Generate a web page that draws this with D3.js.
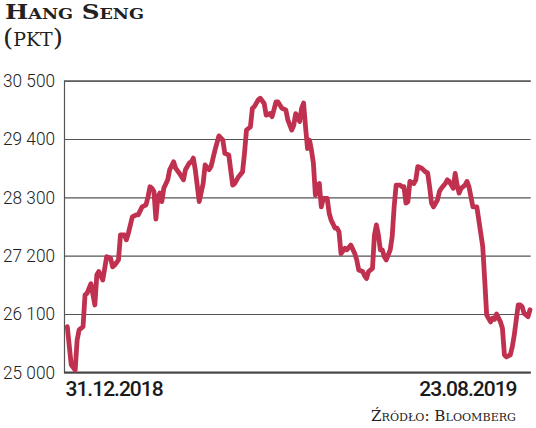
<!DOCTYPE html>
<html>
<head>
<meta charset="utf-8">
<script src="https://cdn.jsdelivr.net/npm/d3@7"></script>
<style>
  html, body { margin: 0; padding: 0; background: #fff; }
  svg { display: block; }
</style>
</head>
<body>
<svg id="chart" width="536" height="428"></svg>
<script>
// ---- data ----
const title = "Hang Seng";
const unit = "(pkt)";
const source = "Źródło: Bloomberg";
const startDate = "2018-12-31";
const endDate = "2019-08-23";
// calendar-day offsets from 31.12.2018
const dayOffsets = [0,2,4,5,6,8,9,10,12,14,15,16,18,20,22,23,24,26,27,29,30,31,33,35,36,38,40,41,42,43,44,45,46,47,48,49,51,52,54,55,57,59,60,62,63,64,65,67,69,70,72,73,75,77,79,80,82,84,85,87,89,90,91,93,94,95,97,98,100,101,103,104,106,107,109,111,112,114,115,116,118,119,120,121,122,123,124,125,126,127,128,129,130,132,133,134,136,137,138,139,141,142,144,146,147,148,150,151,152,153,155,156,157,158,159,160,161,162,164,165,166,167,169,170,171,172,173,174,176,177,178,180,182,183,184,185,186,188,189,190,192,193,194,196,197,198,199,200,202,203,204,205,206,208,209,210,211,212,213,215,216,217,218,220,221,222,223,225,226,227,229,230,231,232,234,235];
const values = [25860,25140,25040,25610,25800,25860,26460,26490,26670,26270,26840,26900,26740,27180,27150,26990,27020,27120,27590,27590,27500,27620,27930,27970,27970,28120,28160,28310,28500,28470,28410,27890,28310,28380,28220,28470,28630,28820,28970,28850,28750,28630,28820,28950,28970,29040,28820,28220,28560,28910,28820,28880,29190,29460,29380,29130,29100,28530,28560,28690,28780,29130,29570,29630,29980,30010,30140,30170,30070,29850,29880,29820,30100,30100,29980,29950,29760,29570,29660,29880,29730,29980,30080,29630,29220,29380,29190,28940,28340,28530,28560,28120,28280,28280,28000,27870,27720,27720,27650,27240,27340,27310,27400,27240,27120,26930,26900,26820,26770,26900,26960,27590,27780,27590,27310,27310,27180,27120,27310,27560,28120,28530,28530,28500,28500,28190,28220,28600,28560,28630,28880,28850,28780,28760,28500,28190,28120,28250,28410,28470,28560,28630,28600,28470,28750,28530,28380,28470,28530,28600,28500,28310,28120,28120,27870,27620,27370,26740,26080,25950,26020,26000,26100,25950,25830,25330,25290,25330,25480,25700,26270,26270,26240,26110,26050,26180];
const yTicks = [25000, 26100, 27200, 28300, 29400, 30500];
const xTickLabels = ["31.12.2018", "23.08.2019"];

// ---- layout ----
const svg = d3.select("#chart");
const plotLeft = 64, plotRight = 530.7, plotTop = 80.7, plotBottom = 372.3;
const lineStartX = 67.3, lineEndX = 530;

const parse = d3.timeParse("%Y-%m-%d");
const t0 = parse(startDate), t1 = parse(endDate);
const points = dayOffsets.map((d, i) => ({ date: d3.timeDay.offset(t0, d), value: values[i] }));

const x = d3.scaleTime().domain([t0, t1]).range([lineStartX, lineEndX]);
const y = d3.scaleLinear().domain([25000, 30500]).range([plotBottom, plotTop]);

const fmt = d3.formatLocale({ decimal: ",", thousands: " ", grouping: [3], currency: ["", ""] }).format(",d");

// gridlines + y labels
const yAxis = svg.append("g")
  .attr("transform", `translate(${plotLeft},0)`)
  .call(d3.axisLeft(y).tickValues(yTicks).tickFormat(fmt)
    .tickSize(-(plotRight - plotLeft)).tickPadding(9));
yAxis.select(".domain").attr("stroke", "#555").attr("stroke-width", 1.2);
yAxis.selectAll(".tick line").attr("stroke", "#555").attr("stroke-width", 1.2);
yAxis.selectAll(".tick text")
  .attr("fill", "#222")
  .attr("textLength", 52).attr("lengthAdjust", "spacingAndGlyphs")
  .style("font-family", "Roboto, 'DejaVu Sans', sans-serif")
  .style("font-weight", 300)
  .style("font-size", "18px");

// bottom axis
const xAxis = svg.append("g")
  .attr("transform", `translate(0,${plotBottom})`)
  .call(d3.axisBottom(x).tickValues([t0, t1]).tickSize(0).tickPadding(0)
    .tickFormat((d, i) => xTickLabels[i]));
xAxis.select(".domain").attr("d", `M${plotLeft},0H${plotRight}`).attr("stroke", "#444").attr("stroke-width", 1.6);
xAxis.selectAll(".tick text")
  .attr("y", 23.5).attr("dy", null)
  .attr("fill", "#1a1a1a")
  .attr("text-anchor", (d, i) => i === 0 ? "start" : "end")
  .attr("x", (d, i) => i === 0 ? -2.3 : -14)
  .style("font-family", "Roboto, 'DejaVu Sans', sans-serif")
  .style("font-weight", 500)
  .style("font-size", "21px")
  .style("letter-spacing", "-1px");

// line
const line = d3.line().x(d => x(d.date)).y(d => y(d.value)).curve(d3.curveLinear);
svg.append("path")
  .datum(points)
  .attr("d", line)
  .attr("fill", "none")
  .attr("stroke", "#c0304f")
  .attr("stroke-width", 4.8)
  .attr("stroke-linejoin", "round")
  .attr("stroke-linecap", "round");

// title
svg.append("text")
  .attr("x", 5).attr("y", 18.5)
  .attr("textLength", 139).attr("lengthAdjust", "spacingAndGlyphs")
  .style("font-family", "'DejaVu Serif', serif")
  .style("font-weight", "bold")
  .style("font-size", "21px")
  .style("font-variant", "small-caps")
  .attr("fill", "#222")
  .text(title);

svg.append("text")
  .attr("x", 3).attr("y", 46)
  .attr("textLength", 60).attr("lengthAdjust", "spacingAndGlyphs")
  .style("font-family", "'DejaVu Serif', serif")
  .style("font-size", "25px")
  .style("font-variant", "small-caps")
  .attr("fill", "#222")
  .text(unit);

// source
svg.append("text")
  .attr("x", 371).attr("y", 421)
  .attr("textLength", 145).attr("lengthAdjust", "spacingAndGlyphs")
  .style("font-family", "'DejaVu Serif', serif")
  .style("font-size", "15px")
  .style("font-variant", "small-caps")
  .attr("fill", "#222")
  .text(source);
</script>
</body>
</html>
